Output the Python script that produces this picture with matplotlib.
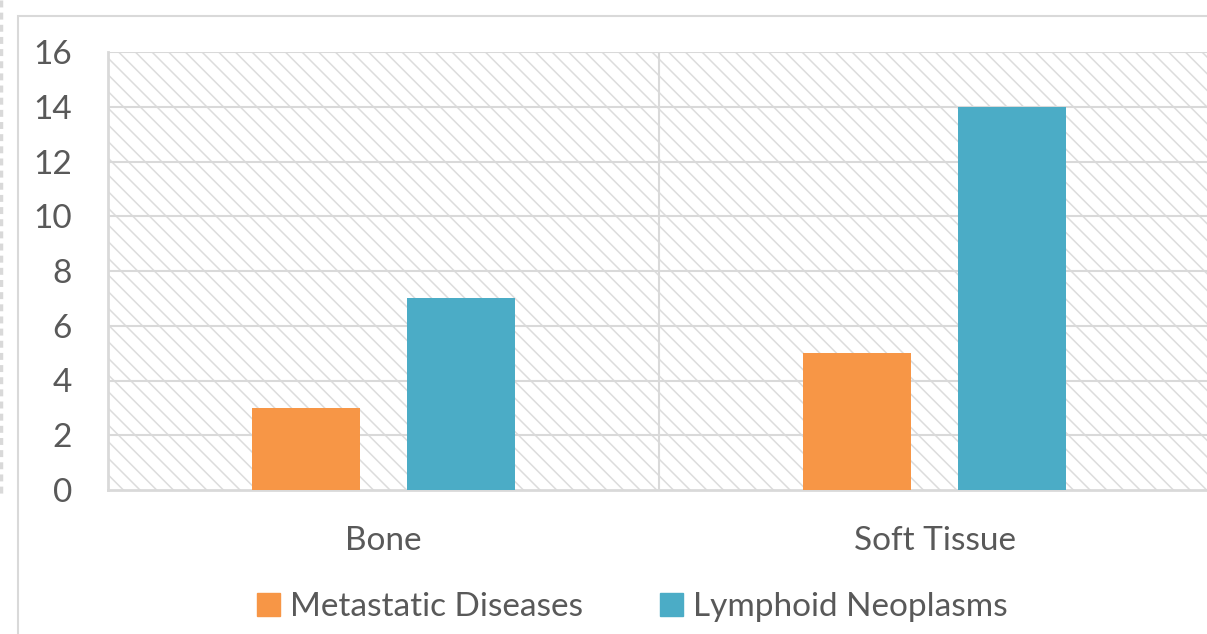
import matplotlib
matplotlib.use("Agg")
from matplotlib import pyplot as plt
from matplotlib.patches import Rectangle, Patch
from matplotlib.lines import Line2D
import numpy as np

categories = ["Bone", "Soft Tissue"]
metastatic = [3, 5]
lymphoid = [7, 14]
series_names = ["Metastatic Diseases", "Lymphoid Neoplasms"]
colors = ["#f79646", "#4bacc6"]
yticks = [0, 2, 4, 6, 8, 10, 12, 14, 16]

grid_col = "#d9d9d9"
text_col = "#595959"
plt.rcParams["font.family"] = ["Lato", "DejaVu Sans"]
plt.rcParams["hatch.linewidth"] = 1.1

fig = plt.figure(figsize=(12.07, 6.34), dpi=100)

# outer chart border (partly cut off on the right / bottom)
fig.add_artist(Rectangle((18 / 1207, -0.1), 1.2, 1 - 16 / 634 + 0.1,
                         transform=fig.transFigure, fill=False,
                         edgecolor=grid_col, lw=1.5))
fig.add_artist(Line2D([1 / 1207, 1 / 1207], [1, 1 - 496 / 634],
                      transform=fig.transFigure, color=grid_col,
                      lw=2.5, ls=(0, (2, 1.5))))

ax = fig.add_axes([108 / 1207, 1 - 490 / 634, 1102 / 1207, 438 / 634])
ax.add_patch(Rectangle((0, 0), 1, 1, transform=ax.transAxes,
                       facecolor="white", edgecolor="#dcdcdc", lw=0,
                       hatch="\\\\", zorder=0))

x = np.arange(len(categories))
w = 0.196
off = 0.1407
ax.bar(x - off, metastatic, w, color=colors[0], zorder=3)
ax.bar(x + off, lymphoid, w, color=colors[1], zorder=3)

ax.set_xlim(-0.5, len(categories) - 0.5)
ax.set_ylim(0, 16)
ax.set_yticks(yticks)
for v in yticks[1:]:
    ax.axhline(v, color=grid_col, lw=1.5, zorder=1)
for b in np.arange(0.5, len(categories) - 0.5):
    ax.axvline(b, color=grid_col, lw=1.5, zorder=1)

for s in ["top", "right"]:
    ax.spines[s].set_visible(False)
for s in ["left", "bottom"]:
    ax.spines[s].set_color(grid_col)
    ax.spines[s].set_linewidth(2)
ax.tick_params(axis="both", length=0, labelsize=24, colors=text_col)
ax.tick_params(axis="y", pad=26)
ax.tick_params(axis="x", pad=26)
ax.set_xticks(x)
ax.set_xticklabels(categories)

handles = [Patch(color=c, label=n) for c, n in zip(colors, series_names)]
fig.legend(handles=handles, loc="center", bbox_to_anchor=(0.524, 1 - 607 / 634),
           ncol=2, frameon=False, fontsize=24, labelcolor=text_col,
           handlelength=0.7, handleheight=0.7, handletextpad=0.3,
           columnspacing=2.3)

fig.savefig("out.png", dpi=100)
